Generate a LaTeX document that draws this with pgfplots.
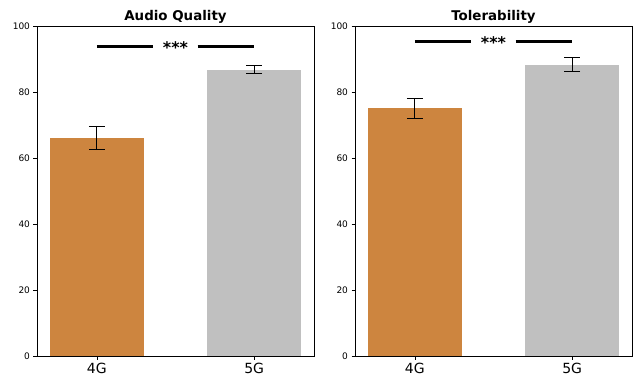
\documentclass[border=0pt]{standalone}
\usepackage{fontspec}
\setmainfont{DejaVu Sans}
\usepackage{pgfplots}
\pgfplotsset{compat=1.18}
\definecolor{bar4g}{HTML}{CD853F}
\definecolor{bar5g}{HTML}{C0C0C0}
\tikzset{stars/.style={font=\bfseries\fontsize{16}{16}\selectfont}}
\pgfplotsset{
  panel/.style={
    scale only axis,
    width=277pt, height=330pt,
    xmin=-0.38, xmax=1.38,
    ymin=0, ymax=100,
    ytick={0,20,40,60,80,100},
    xtick={0,1},
    xticklabels={4G,5G},
    x tick label style={font=\fontsize{14}{16}\selectfont},
    y tick label style={font=\fontsize{9}{11}\selectfont},
    /pgf/number format/assume math mode=true,
    tick align=outside,
    major tick length=3.5pt,
    tick style={black, line width=0.6pt},
    axis line style={black, line width=0.6pt},
    xtick pos=bottom, ytick pos=left,
    title style={font=\bfseries\fontsize{13.4}{15}\selectfont, yshift=-6.5pt},
    ybar, bar width=0.6,
    error bars/y dir=both, error bars/y explicit,
    error bars/error bar style={black, line width=0.9pt},
    error bars/error mark options={rotate=90, mark size=8pt, black, line width=0.9pt},
  },
  sigline/.style={sharp plot, black, line width=2.8pt, no marks, forget plot},
}
\begin{document}
\begin{tikzpicture}[x=1pt,y=1pt]
\useasboundingbox (0,0) rectangle (639,377);

% Audio quality
\begin{axis}[panel, at={(37pt,21pt)}, anchor=south west, title={Audio Quality}]
\addplot[fill=bar4g, draw=none, bar shift=0pt] coordinates {(0,66.2) +- (0,3.5)};
\addplot[fill=bar5g, draw=none, bar shift=0pt] coordinates {(1,86.7) +- (0,1.2)};
\addplot[sigline] coordinates {(0,93.9) (0.36,93.9)};
\addplot[sigline] coordinates {(0.64,93.9) (1,93.9)};
\node[stars] at (axis cs:0.5,93.4) {***};
\end{axis}

% Tolerability
\begin{axis}[panel, at={(355pt,21pt)}, anchor=south west, title={Tolerability}]
\addplot[fill=bar4g, draw=none, bar shift=0pt] coordinates {(0,75.0) +- (0,3.0)};
\addplot[fill=bar5g, draw=none, bar shift=0pt] coordinates {(1,88.3) +- (0,2.1)};
\addplot[sigline] coordinates {(0,95.4) (0.36,95.4)};
\addplot[sigline] coordinates {(0.64,95.4) (1,95.4)};
\node[stars] at (axis cs:0.5,94.9) {***};
\end{axis}
\end{tikzpicture}
\end{document}
